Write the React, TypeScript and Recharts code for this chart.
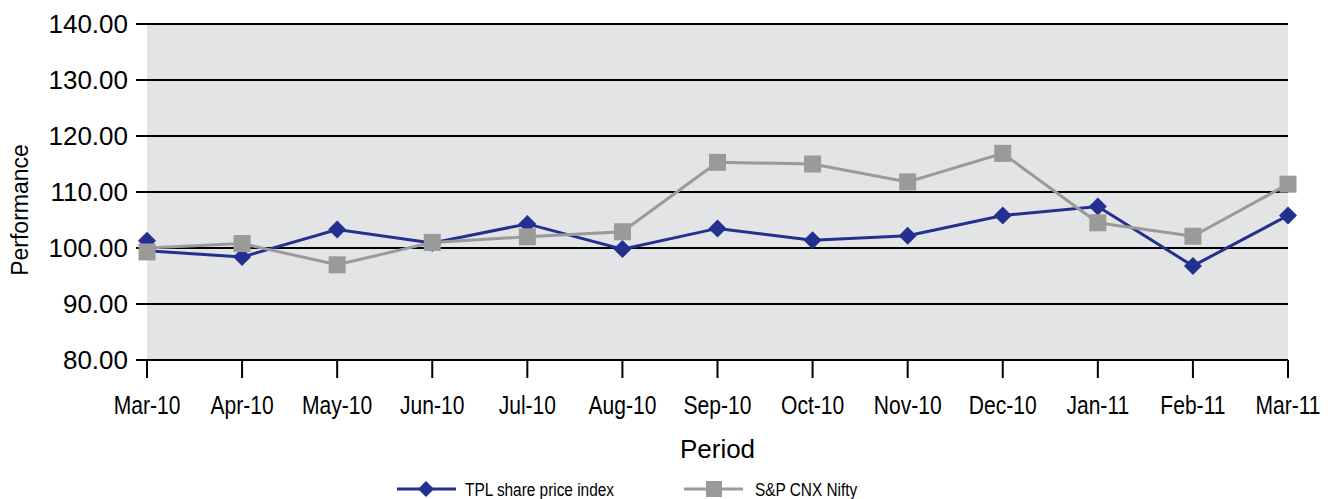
import { LineChart, Line, XAxis, YAxis, CartesianGrid } from "recharts"

const months = [
  "Mar-10", "Apr-10", "May-10", "Jun-10", "Jul-10", "Aug-10", "Sep-10",
  "Oct-10", "Nov-10", "Dec-10", "Jan-11", "Feb-11", "Mar-11",
]
const tplIndex = [99.5, 98.4, 103.3, 100.9, 104.3, 99.8, 103.5, 101.4, 102.2, 105.8, 107.4, 96.8, 105.8]
const niftyIndex = [100.0, 100.8, 97.0, 101.0, 102.0, 102.9, 115.3, 115.0, 111.8, 116.9, 104.5, 102.1, 111.4]
// first-month markers sit off the line start in the original
const tplStartMarker = 101.3
const niftyStartMarker = 99.3
const yTicks = [80, 90, 100, 110, 120, 130, 140]

const BLUE = "#23308F"
const GREY = "#9A9A9A"
const SANS = "'Liberation Sans', Arial, sans-serif"
const SQUEEZE = 0.81 // condensed look of the original's labels

const data = months.map((m, i) => ({
  month: m,
  tpl: tplIndex[i],
  nifty: niftyIndex[i],
  tplMark: i === 0 ? tplStartMarker : null,
  niftyMark: i === 0 ? niftyStartMarker : null,
}))

const Diamond = ({ cx, cy, skipFirst, index }: any) => {
  if (cx == null || cy == null || (skipFirst && index === 0)) return <g key={`d${index}`} />
  const r = 9
  return (
    <polygon
      key={`d${index}`}
      points={`${cx},${cy - r} ${cx + r},${cy} ${cx},${cy + r} ${cx - r},${cy}`}
      fill={BLUE}
    />
  )
}

const Square = ({ cx, cy, skipFirst, index }: any) => {
  if (cx == null || cy == null || (skipFirst && index === 0)) return <g key={`s${index}`} />
  const h = 8.5
  return <rect key={`s${index}`} x={cx - h} y={cy - h} width={h * 2} height={h * 2} fill={GREY} />
}

const NarrowTick = ({ x, y, payload }: any) => (
  <g transform={`translate(${x},${y + 25}) scale(${SQUEEZE},1)`}>
    <text textAnchor="middle" dominantBaseline="central" fontSize={26} fontFamily={SANS} fill="#000">
      {payload.value}
    </text>
  </g>
)

const NarrowText = ({ x, y, children }: any) => (
  <g transform={`translate(${x},${y}) scale(${SQUEEZE},1)`}>
    <text dominantBaseline="central" fontSize={19} fontFamily={SANS} fill="#000">
      {children}
    </text>
  </g>
)

export default function App() {
  return (
    <div style={{ width: 1325 }}>
      <LineChart
        width={1325}
        height={470}
        data={data}
        margin={{ top: 16, right: 45, left: 0, bottom: 0 }}
      >
        <CartesianGrid vertical={false} stroke="#000" strokeWidth={2} fill="#E3E4E6" />
        <XAxis
          dataKey="month"
          height={118}
          padding={{ left: 0, right: 0 }}
          axisLine={{ stroke: "#000", strokeWidth: 2 }}
          tickLine={{ stroke: "#000", strokeWidth: 2 }}
          tickSize={18}
          interval={0}
          tick={<NarrowTick />}
          label={({ viewBox }: any) => (
            <text
              x={viewBox.x + viewBox.width / 2}
              y={viewBox.y + 89}
              textAnchor="middle"
              dominantBaseline="central"
              fontSize={26}
              fontFamily={SANS}
              fill="#000"
            >
              Period
            </text>
          )}
        />
        <YAxis
          width={139}
          domain={[80, 140]}
          ticks={yTicks}
          allowDataOverflow
          axisLine={false}
          tickLine={{ stroke: "#000", strokeWidth: 2 }}
          tickSize={11}
          tickMargin={8}
          tickFormatter={(v: number) => v.toFixed(2)}
          tick={{ fill: "#000", fontSize: 26, fontFamily: SANS }}
          label={({ viewBox }: any) => {
            const x = 12
            const y = viewBox.y + viewBox.height / 2 + 18
            return (
              <text
                x={x}
                y={y}
                transform={`rotate(-90, ${x}, ${y})`}
                textAnchor="middle"
                dominantBaseline="central"
                fontSize={23}
                fontFamily={SANS}
                fill="#000"
              >
                Performance
              </text>
            )
          }}
        />
        <Line
          dataKey="tpl"
          stroke={BLUE}
          strokeWidth={3}
          dot={(p: any) => <Diamond {...p} skipFirst />}
          activeDot={false}
          isAnimationActive={false}
        />
        <Line
          dataKey="tplMark"
          stroke="none"
          dot={(p: any) => <Diamond {...p} />}
          activeDot={false}
          legendType="none"
          isAnimationActive={false}
        />
        <Line
          dataKey="nifty"
          stroke={GREY}
          strokeWidth={3}
          dot={(p: any) => <Square {...p} skipFirst />}
          activeDot={false}
          isAnimationActive={false}
        />
        <Line
          dataKey="niftyMark"
          stroke="none"
          dot={(p: any) => <Square {...p} />}
          activeDot={false}
          legendType="none"
          isAnimationActive={false}
        />
      </LineChart>

      {/* Legend */}
      <svg width={1325} height={21} style={{ display: "block" }}>
        <line x1={389} y1={11} x2={448} y2={11} stroke={BLUE} strokeWidth={3} />
        <polygon points="418,3 426,11 418,19 410,11" fill={BLUE} />
        <NarrowText x={457} y={11}>TPL share price index</NarrowText>
        <line x1={676} y1={11} x2={735} y2={11} stroke={GREY} strokeWidth={3} />
        <rect x={698} y={3} width={16} height={16} fill={GREY} />
        <NarrowText x={747} y={11}>S&amp;P CNX Nifty</NarrowText>
      </svg>
    </div>
  )
}
